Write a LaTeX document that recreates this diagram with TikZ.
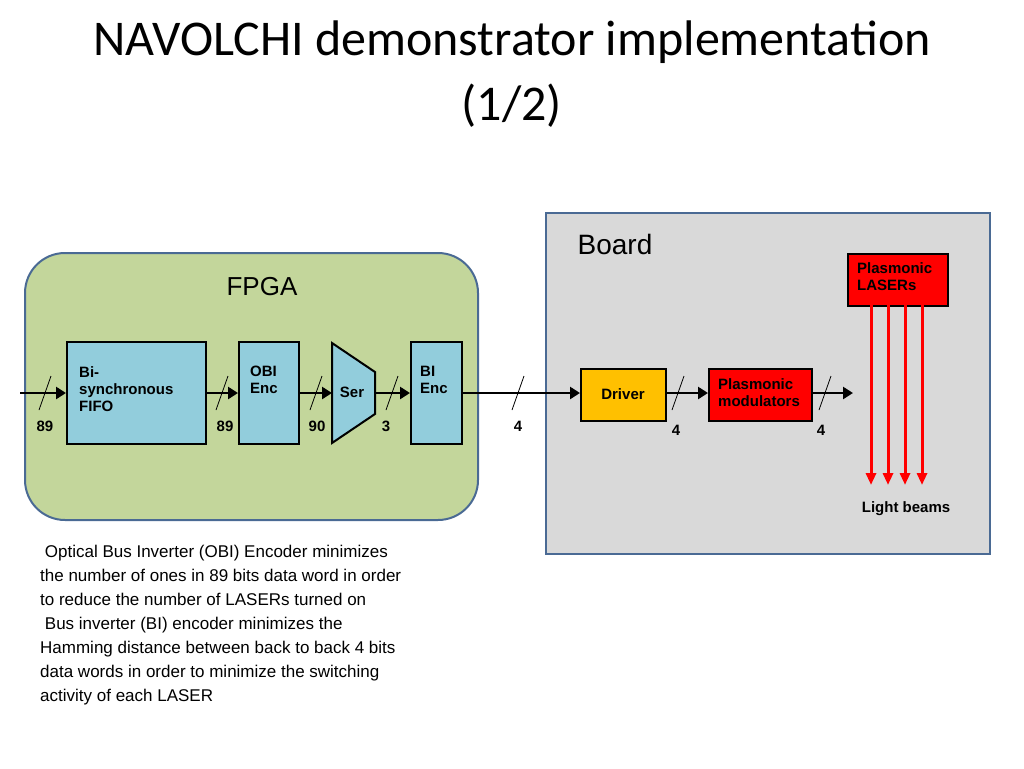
\documentclass[tikz,border=0pt]{standalone}
\usepackage{fontspec}
\setmainfont{Liberation Sans}
\newfontfamily\titlefont{Carlito}
\usetikzlibrary{arrows.meta,shapes.geometric}
\definecolor{boardgray}{HTML}{D9D9D9}
\definecolor{fpgagreen}{HTML}{C3D69B}
\definecolor{blockblue}{HTML}{92CDDC}
\definecolor{edgeblue}{HTML}{4A6A94}
\definecolor{drvorange}{HTML}{FFC000}
\tikzset{block/.style={draw, line width=2pt, fill=blockblue, anchor=north west, inner sep=0pt},
  bus/.style={line width=2.5pt, -{Triangle[length=10pt,width=12pt]}},
  beam/.style={red, line width=3pt, -{Triangle[length=12pt,width=10pt]}},
  lbl/.style={font=\bfseries\fontsize{15}{17}\selectfont},
  slash/.style={line width=0.8pt}}
\begin{document}
\begin{tikzpicture}[x=1pt,y=-1pt]
\useasboundingbox (0,0) rectangle (1024,768);
% title
\node (t1) at (512,42) {\titlefont\fontsize{50}{56}\selectfont NAVOLCHI demonstrator implementation};
\node (t2) at (512,106) {\titlefont\fontsize{50}{56}\selectfont (1/2)};
% containers
\draw [edgeblue, line width=2pt, fill=boardgray] (546,213) rectangle (990,554);
\node (board) at (615,244) {\fontsize{28}{32}\selectfont Board};
\draw [edgeblue, line width=2pt, fill=fpgagreen, rounded corners=40pt] (25,253) rectangle (478,520);
\node (fpga) at (262,287) {\fontsize{26}{30}\selectfont FPGA};
% blocks
\node [block, minimum width=139pt, minimum height=102pt] (fifo) at (66,341) {};
\node [lbl, anchor=north west, align=left, inner sep=0pt] at (79,366) {Bi-\\synchronous\\FIFO};
\node [block, minimum width=60pt, minimum height=102pt] (obi) at (238,341) {};
\node [lbl, anchor=north west, align=left, inner sep=0pt] at (250,366) {OBI\\Enc};
\draw [line width=2pt, fill=blockblue] (332,343) -- (375,372) -- (375,414) -- (332,443) -- cycle;
\coordinate (serin) at (332,393);
\coordinate (serout) at (375,393);
\node [lbl] (ser) at (352,392) {Ser};
\node [block, minimum width=51pt, minimum height=102pt] (bi) at (410,341) {};
\node [lbl, anchor=north west, align=left, inner sep=0pt] at (420,366) {BI\\Enc};
\node [block, fill=drvorange, minimum width=85pt, minimum height=52pt] (drv) at (580,368) {};
\node [lbl] at (623,394) {Driver};
\node [block, fill=red, minimum width=103pt, minimum height=52pt] (mod) at (708,368) {};
\node [lbl, align=left] at (759,393) {Plasmonic\\modulators};
\node [block, fill=red, minimum width=100pt, minimum height=52pt] (laser) at (847,253) {};
\node [lbl, align=left, anchor=north west, inner sep=0pt] at (857,262) {Plasmonic\\LASERs};
% buses
\coordinate (in) at (20,393);
\coordinate (out) at (853,393);
\draw [bus] (in) -- (fifo.west |- in);
\draw [bus] (fifo.east |- in) -- (obi.west |- in);
\draw [bus] (obi.east |- in) -- (serin);
\draw [bus] (serout) -- (bi.west |- in);
\draw [bus] (bi.east |- in) -- (drv.west |- in);
\draw [bus] (drv.east |- in) -- (mod.west |- in);
\draw [bus] (mod.east |- in) -- (out);
\foreach \x/\w/\lx/\ly in {45/89/45/426, 222/89/225/426, 316/90/317/426, 392/3/386/426, 518/4/518/426, 678/4/676/430, 825/4/821/430}
  {\draw [slash] (\x-6,410) -- (\x+6,376);
   \node [lbl] at (\lx,\ly) {\w};}
% light beams
\foreach \x in {871,888,905,922}
  \draw [beam] (\x,305) -- (\x,485);
\node [lbl] (beams) at (906,509) {Light beams};
% notes
\node [anchor=north west, align=left, inner sep=0pt, font=\fontsize{17}{24}\selectfont] (notes) at (40,545)
  {\ Optical Bus Inverter (OBI) Encoder minimizes\\the number of ones in 89 bits data word in order\\to reduce the number of LASERs turned on\\\ Bus inverter (BI) encoder minimizes the\\Hamming distance between back to back 4 bits\\data words in order to minimize the switching\\activity of each LASER};
\end{tikzpicture}
\end{document}
